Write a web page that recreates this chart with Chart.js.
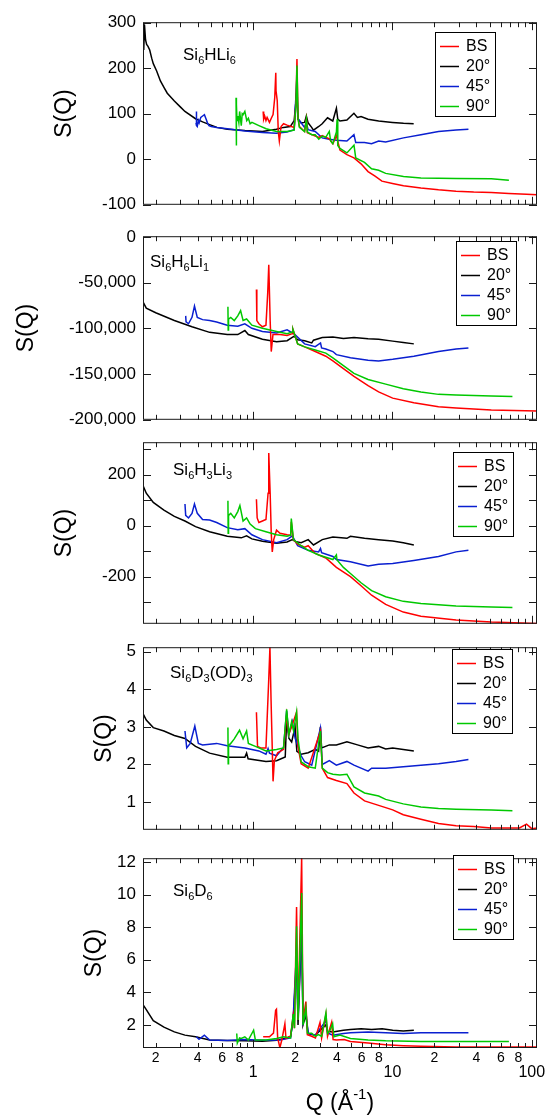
<!DOCTYPE html>
<html><head><meta charset="utf-8">
<script src="https://cdn.jsdelivr.net/npm/chart.js@4.4.1/dist/chart.umd.min.js"></script>
<style>
html,body{margin:0;padding:0;background:#fff}
#wrap{position:relative;width:551px;height:1117px;font-family:"Liberation Sans",Arial,sans-serif;color:#000;overflow:hidden}
#wrap canvas{position:absolute;left:0}
.lbl{position:absolute;font-size:17px;line-height:17px;white-space:nowrap}
.lbl sub{font-size:11px;vertical-align:baseline;position:relative;top:4px}
#xt{position:absolute;left:240px;width:200px;text-align:center;top:1091px;font-size:23px;line-height:23px;white-space:nowrap}
#xt span{font-size:15px;position:relative;top:-11px}
</style></head><body>
<div id="wrap">
 <canvas id="c1"></canvas><canvas id="c2"></canvas><canvas id="c3"></canvas><canvas id="c4"></canvas><canvas id="c5"></canvas>
 <div class="lbl" style="left:183px;top:46px">Si<sub>6</sub>HLi<sub>6</sub></div>
 <div class="lbl" style="left:150px;top:253px">Si<sub>6</sub>H<sub>6</sub>Li<sub>1</sub></div>
 <div class="lbl" style="left:173px;top:461px">Si<sub>6</sub>H<sub>3</sub>Li<sub>3</sub></div>
 <div class="lbl" style="left:170px;top:664px">Si<sub>6</sub>D<sub>3</sub>(OD)<sub>3</sub></div>
 <div class="lbl" style="left:173px;top:882px">Si<sub>6</sub>D<sub>6</sub></div>
 <div id="xt">Q (Å<span>-1</span>)</div>
</div>
<script>
/* S(Q) vs Q, five samples, four detector banks */
const SERIES=['BS','20°','45°','90°'];
const COLORS=['#ff0000','#000000','#0a1fd0','#00c800'];
const DRAW_ORDER=[1,3,2,0];
const X_TICKS=[0.2,0.3,0.4,0.5,0.6,0.7,0.8,0.9,1,2,3,4,5,6,7,8,9,10,20,30,40,50,60,70,80,90,100];
const X_LABELS=['2','','4','','6','','8','','1','2','','4','','6','','8','','10','2','','4','','6','','8','','100'];
const Y1_TICKS=[-100,0,100,200,300];
const Y2_TICKS=[-200000,-150000,-100000,-50000,0];
const Y3_TICKS=[-300,-200,-100,0,100,200,300];
const Y3_LABELS=['','-200','','0','','200',''];
const Y4_TICKS=[1,2,3,4,5];
const Y5_TICKS=[2,4,6,8,10,12];

// Si6HLi6
const HLI6_BS=[[1.18,105],[1.19,88],[1.21,95],[1.236,85],[1.26,92],[1.31,81],[1.35,90],[1.39,98],[1.429,135],[1.454,190],[1.46,150],[1.489,129],[1.515,61],[1.542,40],[1.587,72],[1.653,78],[1.753,75],[1.97,70],[2.03,120],[2.063,220],[2.10,90],[2.148,72],[2.34,61],[2.413,88],[2.45,58],[2.792,51],[2.96,48],[3.13,52],[3.52,45],[3.735,34],[3.96,52],[4.2,20],[4.71,10],[5.29,3],[5.95,-10],[6.68,-27],[7.5,-37],[8.4,-48],[10.0,-53],[12.0,-58],[16.0,-63],[21.4,-67],[28.6,-70],[38.3,-72],[51.2,-73],[68.5,-75],[91.6,-77],[109,-78]];
const HLI6_20=[[0.162,300],[0.164,240],[0.166,296],[0.169,262],[0.172,252],[0.176,248],[0.181,240],[0.187,222],[0.192,210],[0.203,194],[0.216,172],[0.229,158],[0.242,145],[0.272,128],[0.30,115],[0.324,105],[0.386,89],[0.434,82],[0.487,76],[0.55,70],[0.652,66],[0.872,63],[1.166,61],[1.47,66],[1.65,70],[1.85,72],[1.97,85],[2.06,150],[2.10,88],[2.21,80],[2.34,81],[2.41,95],[2.48,80],[2.63,70],[2.71,64],[2.96,72],[3.13,78],[3.42,91],[3.73,84],[3.96,112],[4.05,88],[4.2,84],[4.71,86],[5.29,101],[5.6,92],[5.95,94],[6.68,88],[7.96,84],[10.0,81],[12.0,79],[14.2,78]];
const HLI6_45=[[0.389,80],[0.391,105],[0.393,74],[0.397,72],[0.405,85],[0.41,80],[0.421,92],[0.434,95],[0.447,98],[0.46,88],[0.47,80],[0.482,74],[0.5,72],[0.547,70],[0.652,67],[0.872,62],[1.166,59],[1.47,57],[1.75,60],[1.97,65],[2.06,180],[2.09,90],[2.34,70],[2.41,80],[2.48,65],[2.79,61],[3.13,47],[3.52,44],[3.96,42],[4.71,40],[5.29,54],[5.45,37],[6.3,37],[7.08,34],[7.96,40],[8.94,38],[12.0,47],[16.0,54],[21.4,61],[28.6,64],[35.1,66]];
const HLI6_90=[[0.754,135],[0.757,30],[0.760,120],[0.766,85],[0.776,95],[0.79,80],[0.80,105],[0.822,74],[0.835,100],[0.847,98],[0.872,105],[0.90,85],[0.924,90],[0.951,78],[0.98,81],[1.10,74],[1.24,67],[1.47,61],[1.75,61],[1.97,64],[2.03,120],[2.063,206],[2.10,90],[2.148,70],[2.34,61],[2.413,88],[2.45,60],[2.634,54],[2.79,54],[2.96,44],[3.13,51],[3.32,48],[3.52,61],[3.6,40],[3.73,34],[3.96,60],[4.005,88],[4.05,30],[4.2,24],[4.71,14],[5.294,31],[5.45,3],[6.3,-7],[7.08,-21],[7.96,-24],[8.94,-31],[12.0,-38],[16.0,-41],[28.6,-42],[51.2,-43],[68.5,-46]];

// Si6H6Li1
const H6LI1_BS=[[1.056,-57600],[1.063,-91500],[1.1,-95000],[1.166,-98300],[1.236,-96600],[1.273,-61000],[1.295,-30500],[1.325,-91500],[1.349,-125400],[1.388,-106800],[1.56,-106800],[1.753,-107800],[1.912,-105800],[1.93,-101000],[2.087,-117000],[2.344,-120300],[2.792,-125400],[3.324,-130500],[3.735,-135600],[4.446,-144100],[5.294,-152500],[6.683,-162700],[7.957,-169500],[10.04,-176300],[14.24,-181400],[21.4,-185800],[28.62,-187100],[51.22,-189200],[109,-190500]];
const H6LI1_20=[[0.162,-71000],[0.171,-78000],[0.2,-83000],[0.272,-91500],[0.364,-98300],[0.487,-104400],[0.652,-106800],[0.776,-106800],[0.872,-102400],[0.924,-106800],[1.166,-112000],[1.472,-114600],[1.753,-113500],[1.969,-108500],[2.087,-112500],[2.344,-113600],[2.634,-116000],[2.712,-113000],[3.135,-110000],[3.735,-109500],[4.446,-111000],[5.294,-110000],[6.683,-111500],[7.957,-112000],[10.04,-114000],[11.96,-115500],[14.24,-117000]];
const H6LI1_45=[[0.328,-86400],[0.33,-93000],[0.3436,-95000],[0.3641,-88000],[0.3793,-75600],[0.3974,-88000],[0.4336,-90500],[0.4872,-91500],[0.5472,-93200],[0.6516,-96600],[0.7757,-97600],[0.8717,-95000],[0.9792,-100000],[1.166,-103400],[1.472,-105000],[1.753,-101700],[1.969,-106000],[2.344,-117000],[2.792,-120000],[3.045,-116000],[3.1,-121500],[3.324,-122700],[3.735,-125400],[3.958,-128800],[4.994,-132200],[6.683,-135000],[7.957,-135600],[10.04,-133900],[14.24,-130500],[21.4,-125400],[28.62,-122700],[35.09,-121400]];
const H6LI1_90=[[0.6593,-76300],[0.662,-101700],[0.666,-90000],[0.6908,-88100],[0.7321,-91500],[0.7757,-86400],[0.8128,-80700],[0.8467,-91500],[0.8975,-89800],[0.9792,-96600],[1.166,-100000],[1.472,-103400],[1.753,-105800],[1.912,-104000],[1.93,-101000],[2.087,-117000],[2.344,-120300],[2.792,-123700],[3.324,-127100],[3.735,-132200],[4.446,-140700],[5.294,-149200],[6.683,-155900],[8.939,-161000],[11.96,-166100],[16.0,-169500],[21.4,-172200],[28.62,-173000],[51.22,-173900],[72.61,-174600]];

// Si6H3Li3
const H3LI3_BS=[[1.056,103],[1.069,30],[1.1,12],[1.166,18],[1.236,24],[1.28,127],[1.295,285],[1.325,127],[1.349,-30],[1.372,-103],[1.405,-55],[1.472,-18],[1.56,-30],[1.753,-36],[1.86,-38],[1.879,15],[1.946,-55],[2.087,-73],[2.344,-85],[2.484,-79],[2.792,-109],[3.324,-127],[3.958,-164],[4.994,-200],[5.948,-236],[7.083,-273],[8.939,-309],[11.96,-339],[16.0,-355],[28.62,-370],[51.22,-378],[109,-384]];
const H3LI3_20=[[0.162,157],[0.171,127],[0.192,91],[0.229,61],[0.272,36],[0.324,18],[0.386,-4],[0.487,-24],[0.652,-42],[0.822,-48],[0.8975,-40],[0.9792,-52],[1.166,-61],[1.472,-69],[1.753,-64],[1.912,-55],[2.0,-62],[2.211,-67],[2.484,-55],[2.712,-76],[3.135,-55],[3.735,-45],[4.713,-50],[4.994,-42],[6.305,-50],[7.957,-55],[10.04,-60],[11.96,-67],[14.24,-76]];
const H3LI3_45=[[0.3242,85],[0.328,40],[0.3436,30],[0.3641,48],[0.3793,85],[0.3974,48],[0.4336,24],[0.4872,22],[0.5472,12],[0.6516,-8],[0.7757,-16],[0.8717,-12],[0.9792,-36],[1.166,-55],[1.472,-67],[1.753,-55],[1.912,-40],[2.087,-79],[2.484,-97],[2.95,-103],[3.045,-90],[3.1,-106],[3.735,-121],[3.958,-133],[4.994,-142],[6.683,-158],[7.957,-152],[10.04,-149],[14.24,-137],[21.4,-121],[28.62,-103],[35.09,-97]];
const H3LI3_90=[[0.6593,97],[0.662,-30],[0.666,40],[0.6908,48],[0.7321,30],[0.7757,55],[0.8035,79],[0.8467,18],[0.8975,30],[0.9512,6],[1.038,-12],[1.236,-24],[1.472,-36],[1.753,-42],[1.86,-38],[1.879,28],[1.946,-55],[2.211,-79],[2.484,-97],[2.959,-115],[3.735,-133],[3.958,-115],[4.0,-135],[4.446,-164],[4.994,-188],[5.948,-224],[7.083,-255],[8.939,-279],[11.96,-297],[16.0,-305],[28.62,-315],[51.22,-319],[72.61,-321]];

// Si6D3(OD)3
const D3OD3_BS=[[1.056,3.39],[1.075,2.48],[1.133,2.44],[1.236,2.44],[1.29,4.13],[1.32,5.12],[1.345,3.7],[1.39,1.55],[1.42,2.10],[1.50,2.31],[1.653,2.40],[1.74,3.31],[1.804,2.8],[1.89,3.0],[2.05,3.39],[2.10,2.48],[2.211,2.02],[2.484,1.90],[3.04,2.89],[3.135,1.90],[3.422,1.65],[3.958,1.57],[4.713,1.49],[5.294,1.24],[6.305,1.03],[7.957,0.91],[10.04,0.79],[11.96,0.66],[16.0,0.54],[21.4,0.43],[28.62,0.37],[38.28,0.35],[51.22,0.31],[81.57,0.31],[91.65,0.41],[100,0.29],[109,0.31]];
const D3OD3_20=[[0.162,3.35],[0.171,3.18],[0.192,2.98],[0.229,2.89],[0.272,2.77],[0.324,2.69],[0.386,2.48],[0.487,2.30],[0.652,2.19],[0.872,2.19],[0.8975,2.30],[0.92,2.15],[1.236,2.08],[1.472,2.10],[1.70,2.2],[1.74,3.22],[1.804,2.7],[1.89,2.6],[2.0,3.0],[2.06,2.35],[2.211,2.27],[2.484,2.31],[2.792,2.4],[2.95,2.35],[3.04,3.0],[3.1,2.44],[3.524,2.52],[3.958,2.52],[4.713,2.60],[5.612,2.52],[6.683,2.44],[7.957,2.48],[8.939,2.41],[10.04,2.44],[11.96,2.40],[14.24,2.36]];
const D3OD3_45=[[0.3242,2.89],[0.3337,2.44],[0.3537,2.56],[0.3815,3.02],[0.4044,2.56],[0.4336,2.52],[0.5472,2.56],[0.6516,2.50],[0.8717,2.44],[1.1,2.36],[1.236,2.27],[1.28,2.42],[1.31,2.3],[1.472,2.23],[1.653,2.45],[1.74,3.43],[1.804,2.8],[1.91,3.14],[2.0,2.7],[2.211,2.23],[2.344,2.07],[2.634,1.98],[3.04,2.97],[3.135,2.0],[3.524,2.1],[3.958,1.98],[4.713,2.08],[5.294,1.98],[6.683,1.82],[7.083,1.9],[8.939,1.90],[11.96,1.94],[16.0,1.98],[21.4,2.02],[28.62,2.08],[35.09,2.13]];
const D3OD3_90=[[0.6593,2.98],[0.662,2.02],[0.666,2.5],[0.6908,2.56],[0.7321,2.68],[0.7989,2.91],[0.8467,2.68],[0.8975,2.89],[0.924,2.56],[1.038,2.48],[1.236,2.36],[1.472,2.40],[1.653,2.44],[1.74,3.47],[1.804,2.8],[1.89,3.14],[1.95,2.9],[2.05,3.39],[2.10,2.68],[2.211,2.07],[2.484,1.94],[2.792,1.90],[3.04,2.89],[3.135,1.90],[3.422,1.78],[3.735,1.74],[4.195,1.72],[4.713,1.74],[5.294,1.40],[6.305,1.24],[7.957,1.16],[8.939,1.07],[11.96,0.95],[16.0,0.87],[21.4,0.83],[28.62,0.81],[51.22,0.79],[72.61,0.77]];

// Si6D6
const D6_BS=[[1.18,1.27],[1.31,1.27],[1.40,1.5],[1.45,2.9],[1.47,2.96],[1.50,1.2],[1.556,0.6],[1.606,1.07],[1.69,2.07],[1.72,1.17],[1.857,1.3],[1.94,2.6],[1.98,1.8],[2.05,9.24],[2.10,2.3],[2.23,12.3],[2.28,2.2],[2.39,3.43],[2.45,1.4],[2.63,1.3],[2.8,1.2],[3.02,2.16],[3.1,1.2],[3.33,2.65],[3.42,1.3],[3.66,2.16],[3.75,1.1],[3.958,1.07],[4.5,1.1],[4.994,0.98],[6.683,0.88],[8.939,0.78],[11.96,0.72],[16.0,0.68],[28.62,0.64],[51.22,0.64],[109,0.64]];
const D6_20=[[0.162,3.24],[0.171,2.94],[0.192,2.26],[0.229,1.86],[0.272,1.57],[0.324,1.37],[0.386,1.27],[0.487,1.07],[0.652,1.04],[0.872,1.02],[1.166,1.0],[1.472,1.05],[1.753,1.2],[1.857,1.3],[1.94,2.3],[2.05,6.0],[2.10,2.0],[2.23,8.0],[2.28,2.0],[2.39,2.6],[2.484,1.47],[2.792,1.37],[3.324,2.0],[3.422,1.6],[3.735,1.57],[4.446,1.67],[4.994,1.71],[5.948,1.76],[7.083,1.71],[8.433,1.76],[10.04,1.67],[11.96,1.63],[14.24,1.67]];
const D6_45=[[0.3906,1.27],[0.409,1.11],[0.4465,1.37],[0.4872,1.07],[0.6516,1.04],[0.8717,1.10],[1.166,1.06],[1.56,1.07],[1.857,1.2],[1.94,2.5],[2.05,6.59],[2.10,2.3],[2.23,8.36],[2.28,2.2],[2.39,2.8],[2.484,1.47],[2.792,1.37],[3.33,2.26],[3.422,1.5],[3.735,1.37],[4.446,1.47],[4.994,1.51],[6.683,1.57],[8.939,1.51],[11.96,1.47],[16.0,1.51],[21.4,1.51],[35.09,1.51]];
const D6_90=[[0.7626,1.47],[0.77,0.88],[0.7989,1.2],[0.8223,1.17],[0.8717,1.27],[0.924,1.07],[1.008,1.67],[1.038,1.07],[1.236,1.07],[1.472,1.17],[1.653,1.27],[1.857,1.2],[1.94,2.67],[1.98,1.8],[2.05,8.06],[2.10,2.3],[2.23,10.1],[2.28,2.0],[2.39,3.04],[2.45,1.5],[2.63,1.49],[2.8,1.3],[2.94,1.4],[3.1,1.3],[3.33,2.74],[3.42,1.47],[3.56,1.66],[3.72,2.07],[3.8,1.27],[4.195,1.37],[4.994,1.17],[6.683,1.07],[8.939,1.02],[16.0,0.98],[28.62,0.98],[68.51,0.98]];

function isDec(v){var l=Math.log10(v);return Math.abs(l-Math.round(l))<1e-9}

const P=[
 {c:'c1',top:15,bot:212,min:-100,max:301,yt:Y1_TICKS,d:[HLI6_BS,HLI6_20,HLI6_45,HLI6_90],leg:[435,32],tx:64.7},
 {c:'c2',top:229,bot:427,min:-200000,max:700,yt:Y2_TICKS,d:[H6LI1_BS,H6LI1_20,H6LI1_45,H6LI1_90],leg:[456,241],tx:27,
  fmt:function(v){return v.toLocaleString('en-US')}},
 {c:'c3',top:435,bot:631,min:-385,max:327,yt:Y3_TICKS,d:[H3LI3_BS,H3LI3_20,H3LI3_45,H3LI3_90],leg:[453,452],tx:64.7,
  fmt:function(v){var k=Y3_TICKS.indexOf(v);return k<0?'':Y3_LABELS[k]}},
 {c:'c4',top:640,bot:837,min:0.26,max:5.12,yt:Y4_TICKS,d:[D3OD3_BS,D3OD3_20,D3OD3_45,D3OD3_90],leg:[452,649],tx:105},
 {c:'c5',top:851,bot:1048,min:0.58,max:12.24,yt:Y5_TICKS,d:[D6_BS,D6_20,D6_45,D6_90],leg:[453,855],tx:94.7,last:true}
];

const frameTicks={id:'frameTicks',afterDatasetsDraw:function(ch){
 var c=ch.ctx,a=ch.chartArea,x=ch.scales.x,y=ch.scales.y;
 c.save();c.strokeStyle='#1a1a1a';c.lineWidth=1;
 c.strokeRect(a.left+.5,a.top+.5,a.right-a.left-1,a.bottom-a.top-1);
 c.beginPath();
 X_TICKS.forEach(function(v){var px=Math.round(x.getPixelForValue(v))+.5,l=isDec(v)?8:5;
  c.moveTo(px,a.bottom);c.lineTo(px,a.bottom-l);c.moveTo(px,a.top);c.lineTo(px,a.top+l)});
 y.ticks.forEach(function(t){var py=Math.round(y.getPixelForValue(t.value))+.5;
  c.moveTo(a.left,py);c.lineTo(a.left+8,py);c.moveTo(a.right,py);c.lineTo(a.right-8,py)});
 c.stroke();c.restore()}};

const boxLegend={id:'boxLegend',afterDraw:function(ch,args,o){
 if(!o||o.x==null)return;
 var c=ch.ctx;c.save();
 c.fillStyle='#fff';c.fillRect(o.x,o.y,60,84);
 c.strokeStyle='#000';c.lineWidth=1;c.strokeRect(o.x+.5,o.y+.5,60,84);
 c.font='16px "Liberation Sans", Arial';c.textBaseline='middle';c.textAlign='left';
 ch.data.datasets.forEach(function(d,i){var yy=Math.round(o.y+13.5+i*20.3)+.5;
  c.strokeStyle=d.borderColor;c.lineWidth=1.5;c.beginPath();c.moveTo(o.x+5,yy);c.lineTo(o.x+24,yy);c.stroke();
  c.fillStyle='#000';c.fillText(d.label,o.x+31,yy)});
 c.restore()}};

Chart.defaults.font.family='"Liberation Sans", Arial, sans-serif';
Chart.defaults.color='#000';

P.forEach(function(p){
 var cv=document.getElementById(p.c),ct=p.top-10,h=p.last?1117-ct:(p.bot-p.top)+20;
 cv.width=551;cv.height=h;cv.style.top=ct+'px';cv.style.width='551px';cv.style.height=h+'px';
 var xs={type:'logarithmic',min:0.162,max:109,display:!!p.last};
 if(p.last){
  xs.afterBuildTicks=function(s){s.ticks=X_TICKS.map(function(v){return{value:v,major:isDec(v)}})};
  xs.ticks={autoSkip:false,maxRotation:0,minRotation:0,padding:2,color:'#000',
   font:function(cx){return cx.tick&&isDec(cx.tick.value)?{size:16,lineHeight:0.93}:{size:14}},
   callback:function(v,i){var k=X_TICKS.indexOf(v),s=k<0?'':X_LABELS[k];return isDec(v)?['',s]:s}};
  xs.grid={display:false,drawTicks:false};xs.border={display:false};
  xs.afterFit=function(s){s.height=1117-p.bot};
 }
 new Chart(cv,{type:'line',
  data:{datasets:p.d.map(function(arr,i){return{label:SERIES[i],data:arr,borderColor:COLORS[i],
   borderWidth:1.5,pointRadius:0,fill:false,tension:0,order:DRAW_ORDER[i]}})},
  options:{responsive:false,animation:false,events:[],
   layout:{padding:{top:10,right:14,left:0,bottom:p.last?0:10}},
   plugins:{legend:{display:false},tooltip:{enabled:false},boxLegend:{x:p.leg[0],y:p.leg[1]-ct}},
   scales:{x:xs,
    y:{min:p.min,max:p.max,
     afterBuildTicks:function(s){s.ticks=p.yt.map(function(v){return{value:v}})},
     ticks:{padding:7,autoSkip:false,font:{size:17},color:'#000',
      callback:p.fmt||function(v){return String(v)}},
     grid:{display:false,drawTicks:false},border:{display:false},
     title:{display:true,text:'S(Q)',font:{size:23},color:'#000',padding:{top:p.tx-13.8,bottom:0}},
     afterFit:function(s){s.width=143}}}},
  plugins:[frameTicks,boxLegend]});
});
</script>
</body></html>
